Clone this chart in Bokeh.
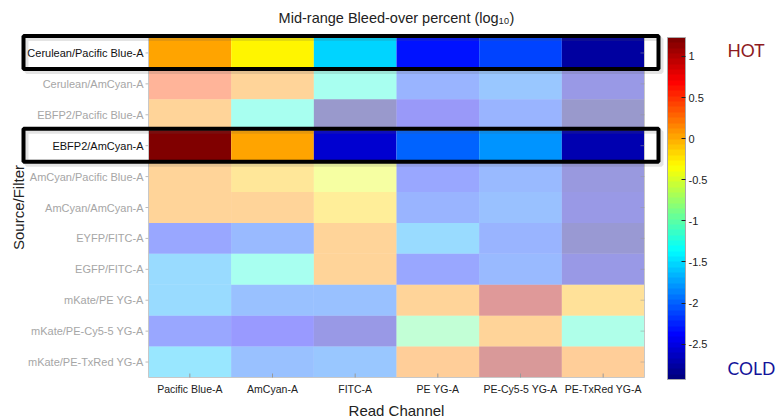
from bokeh.plotting import figure
from bokeh.models import (ColumnDataSource, LinearColorMapper, ColorBar, FixedTicker,
                          BoxAnnotation, Range1d, CustomJSTickFormatter, AllLabels)
from bokeh.core.properties import value
from bokeh.embed import file_html
from bokeh.resources import INLINE
import math

# ---------------- data ----------------
sources = ["Cerulean/Pacific Blue-A", "Cerulean/AmCyan-A", "EBFP2/Pacific Blue-A",
           "EBFP2/AmCyan-A", "AmCyan/Pacific Blue-A", "AmCyan/AmCyan-A",
           "EYFP/FITC-A", "EGFP/FITC-A", "mKate/PE YG-A", "mKate/PE-Cy5-5 YG-A",
           "mKate/PE-TxRed YG-A"]
channels = ["Pacific Blue-A", "AmCyan-A", "FITC-A", "PE YG-A", "PE-Cy5-5 YG-A",
            "PE-TxRed YG-A"]

pacific_blue = [0.05, 0.39, 0.09, 1.23, 0.09, 0.09, -2.24, -1.71, -1.71, -2.24, -1.63]
amcyan = [-0.33, 0.09, -1.20, 0.05, -0.09, 0.09, -2.04, -1.20, -2.00, -2.41, -2.00]
fitc = [-1.56, -1.20, -2.92, -2.60, -0.43, -0.15, 0.09, 0.09, -2.00, -2.67, -1.93]
pe_yg = [-2.29, -2.12, -2.44, -2.00, -2.24, -2.12, -1.71, -2.22, 0.09, -0.94, 0.13]
pe_cy55_yg = [-2.09, -1.93, -2.14, -1.80, -2.04, -1.98, -2.09, -2.04, 0.99, 0.09, 1.05]
pe_txred_yg = [-2.80, -2.65, -2.88, -2.71, -2.72, -2.62, -2.82, -2.66, -0.02, -1.14, 0.13]
series = [pacific_blue, amcyan, fitc, pe_yg, pe_cy55_yg, pe_txred_yg]

highlighted = ["Cerulean/Pacific Blue-A", "EBFP2/AmCyan-A"]
cbar_ticks = [1, 0.5, 0, -0.5, -1, -1.5, -2, -2.5]
v_low, v_high = -2.93, 1.23

title_text = "Mid-range Bleed-over percent (log\u2081\u2080)"
x_title = "Read Channel"
y_title = "Source/Filter"

# ---------------- jet palette (MATLAB-like, 64 colours) ----------------
def jet(n):
    cols = []
    for i in range(n):
        t = i / (n - 1)
        r = min(max(1.5 - abs(4 * t - 3), 0), 1)
        g = min(max(1.5 - abs(4 * t - 2), 0), 1)
        b = min(max(1.5 - abs(4 * t - 1), 0), 1)
        cols.append("#%02x%02x%02x" % (int(round(r * 255)), int(round(g * 255)), int(round(b * 255))))
    return cols

mapper = LinearColorMapper(palette=jet(64), low=v_low, high=v_high)

nrows, ncols = len(sources), len(channels)
xs, ys, vs, alphas = [], [], [], []
for ci, col in enumerate(series):
    for ri, v in enumerate(col):
        xs.append(ci + 0.5)
        ys.append(nrows - ri - 0.5)
        vs.append(v)
        alphas.append(1.0 if sources[ri] in highlighted else 0.4)
src = ColumnDataSource(dict(x=xs, y=ys, v=vs, a=alphas))

# ---------------- geometry (canvas px of the heat-map block) ----------------
W, H = 776, 418
FL, FT, FR, FBOT = 148, 37, 644, 377
fw, fh = FR - FL, FBOT - FT
ux = fw / ncols    # px per data unit in x
uy = fh / nrows    # px per data unit in y

def dx(px):
    return (px - FL) / ux

def dy(py):
    return nrows - (py - FT) / uy

p = figure(width=W, height=H, x_range=Range1d(dx(0), dx(W)), y_range=Range1d(dy(H), dy(0)),
           output_backend="svg", toolbar_location=None, title=None,
           x_axis_location=None, y_axis_location=None, min_border=0)
p.background_fill_color = "white"
p.border_fill_color = "white"
p.outline_line_color = None
p.grid.visible = False

FONT = value("Liberation Sans")

# heat-map cells
p.rect(x="x", y="y", width=1, height=1, source=src,
       fill_color={"field": "v", "transform": mapper}, fill_alpha="a", line_color=None)

# axes frame lines (light, MATLAB box)
p.rect(x=ncols / 2, y=nrows / 2, width=ncols, height=nrows, fill_color=None,
       line_color="#c8c8c8", line_width=1)

# x ticks (inside) and labels
xt = [i + 0.5 for i in range(ncols)]
p.segment(x0=xt, x1=xt, y0=[0] * ncols, y1=[4 / uy] * ncols, line_color="#999999")
p.text(x=xt, y=[dy(388)] * ncols, text=channels, text_align="center",
       text_baseline="middle", text_font=FONT, text_font_size="10.5px", text_color="#222222")

# y ticks
yt = [nrows - i - 0.5 for i in range(nrows)]
p.segment(x0=[-3 / ux] * nrows, x1=[0] * nrows, y0=yt, y1=yt, line_color="#bbbbbb")
p.segment(x0=[ncols - 4 / ux] * nrows, x1=[ncols] * nrows, y0=yt, y1=yt,
          line_color="#999999", line_alpha=0.5)

# row labels
lab_col = ["#111111" if s in highlighted else "#a6a6a6" for s in sources]
p.text(x=[dx(143)] * nrows, y=yt, text=sources, text_color=lab_col, text_align="right",
       text_baseline="middle", text_font=FONT, text_font_size="11px")

# highlight boxes with soft shadow
for s in highlighted:
    ri = sources.index(s)
    top, bot = nrows - ri + 1.5 / uy, nrows - ri - 1 - 0.5 / uy
    off = 3
    p.add_layout(BoxAnnotation(left=dx(23) + off / ux, right=dx(658) + off / ux,
                               top=top - off / uy, bottom=bot - off / uy,
                               fill_color=None, line_color="#555555", line_alpha=0.16,
                               line_width=4))
    p.add_layout(BoxAnnotation(left=dx(23), right=dx(658), top=top, bottom=bot,
                               fill_color=None, line_color="#000000", line_alpha=1.0,
                               line_width=4))

# titles
p.text(x=[ncols / 2], y=[dy(17)], text=[title_text], text_align="center",
       text_baseline="middle", text_font=FONT, text_font_size="14.5px", text_color="#222222")
p.text(x=[ncols / 2], y=[dy(410)], text=[x_title], text_align="center",
       text_baseline="alphabetic", text_font=FONT, text_font_size="15px", text_color="#222222")
p.text(x=[dx(18)], y=[nrows / 2], text=[y_title], text_align="center",
       text_baseline="middle", angle=math.pi / 2, text_font=FONT, text_font_size="15px",
       text_color="#222222")
p.text(x=[dx(727)], y=[dy(50)], text=["HOT"], text_align="left", text_baseline="middle",
       text_font=value("Lato"), text_font_size="17.5px", text_color="#8e1a1e")
p.text(x=[dx(727)], y=[dy(368)], text=["COLD"], text_align="left", text_baseline="middle",
       text_font=value("Lato"), text_font_size="17.5px", text_color="#13139a")

# colour bar
cb = ColorBar(color_mapper=mapper, width=18, height=342, padding=0, margin=0,
              location=(667, H - 379),
              ticker=FixedTicker(ticks=cbar_ticks),
              formatter=CustomJSTickFormatter(code="return tick.toString()"),
              major_label_policy=AllLabels(),
              major_label_text_font="Liberation Sans", major_label_text_font_size="11px",
              major_label_text_color="#222222", label_standoff=3,
              major_tick_in=4, major_tick_out=0, major_tick_line_color="#222222",
              bar_line_color="#aaaaaa", background_fill_color=None, border_line_color=None)
p.add_layout(cb, "center")

open("out.html", "w").write(file_html(p, INLINE))
